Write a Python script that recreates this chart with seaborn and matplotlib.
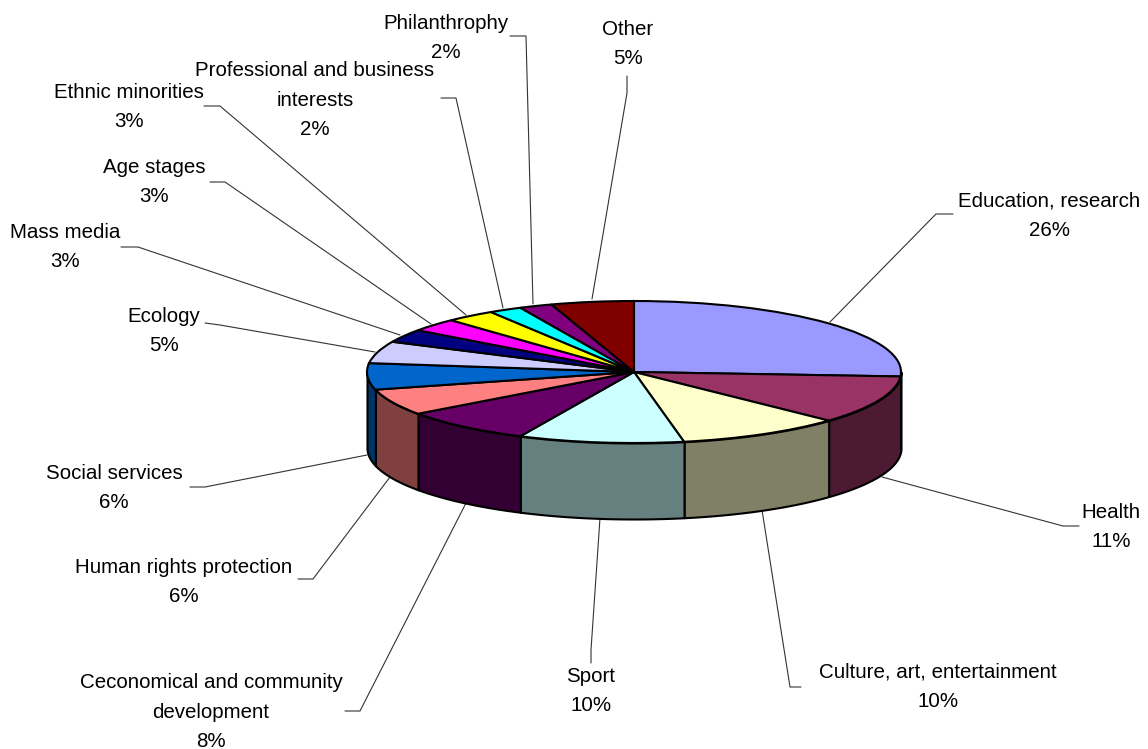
import numpy as np
import seaborn as sns
import matplotlib.pyplot as plt

sns.set_style("white")
plt.rcParams['font.family'] = ['Liberation Sans', 'DejaVu Sans']

categories = ['Education, research', 'Health', 'Culture, art, entertainment', 'Sport',
              'Ceconomical and community\ndevelopment', 'Human rights protection',
              'Social services', 'Ecology', 'Mass media', 'Age stages', 'Ethnic minorities',
              'Professional and business\ninterests', 'Philanthrophy', 'Other']
shares = [26, 11, 10, 10, 8, 6, 6, 5, 3, 3, 3, 2, 2, 5]
slice_colors = ['#9999FF', '#993366', '#FFFFCC', '#CCFFFF', '#660066', '#FF8080', '#0066CC',
                '#CCCCFF', '#000080', '#FF00FF', '#FFFF00', '#00FFFF', '#800080', '#800000']

# label centres and leader lines, in picture pixels
label_pos = [(1049, 216), (1111, 527), (938, 687), (591, 691), (211, 712), (184, 582), (114, 488),
             (164, 331), (65, 247), (154, 182), (129, 107), (315, 100), (446, 38), (628, 44)]
leaders = [
    [(953, 214), (936, 214), (830, 322)],
    [(1079, 526), (1063, 526), (882, 477)],
    [(801, 687), (790, 687), (762, 510)],
    [(591, 663), (591, 650), (600, 518)],
    [(345, 711), (360, 711), (466, 503)],
    [(298, 579), (313, 579), (390, 477)],
    [(190, 487), (205, 487), (367, 455)],
    [(205, 323), (220, 325), (375, 352)],
    [(121, 247), (138, 247), (400, 335)],
    [(210, 182), (225, 182), (431, 324)],
    [(204, 106), (220, 106), (466, 315)],
    [(441, 98), (456, 98), (503, 308)],
    [(510, 36), (526, 36), (533, 304)],
    [(627, 76), (627, 93), (592, 299)],
]

WIDTH, HEIGHT = 1148, 749
CX, CY, RX, RY, DEPTH = 634, 372, 267, 71, 76


def to_data(px, py):
    """Picture pixels to the unit circle coordinates of the pie axes."""
    return (px - CX) / RX, (CY - py) / RY


fig = plt.figure(figsize=(WIDTH / 100, HEIGHT / 100), dpi=100)
ax = fig.add_axes([0, 0, 1, 1])

palette = sns.color_palette(slice_colors)
edges = np.cumsum([0] + shares) / sum(shares) * 2 * np.pi

# side walls, only the front half of the disc shows
for start, stop, color in zip(edges[:-1], edges[1:], palette):
    lo, hi = max(start, np.pi / 2), min(stop, 3 * np.pi / 2)
    if lo >= hi:
        continue
    theta = np.linspace(lo, hi, 60)
    x = np.sin(theta)
    y = np.cos(theta)
    ax.fill_between(x, y, y - DEPTH / RY, color=np.array(color) * 0.5,
                    edgecolor='black', linewidth=1.5, zorder=1)

wedges, _ = ax.pie(shares, colors=palette, startangle=90, counterclock=False, radius=1,
                   wedgeprops=dict(edgecolor='black', linewidth=1.5))
for w in wedges:
    w.set_zorder(2)

ax.set_aspect('auto')
ax.set_xlim(*[to_data(v, 0)[0] for v in (0, WIDTH)])
ax.set_ylim(*[to_data(0, v)[1] for v in (HEIGHT, 0)])

for name, share, (lx, ly), leader in zip(categories, shares, label_pos, leaders):
    ax.text(*to_data(lx, ly), f'{name}\n{share}%', ha='center', va='center',
            fontsize=14.8, linespacing=1.68, color='black', zorder=4)
    pts = np.array([to_data(*p) for p in leader])
    ax.plot(pts[:, 0], pts[:, 1], color='#333333', linewidth=0.8, zorder=0, clip_on=False)

fig.savefig('out.png', dpi=100, facecolor='white')
